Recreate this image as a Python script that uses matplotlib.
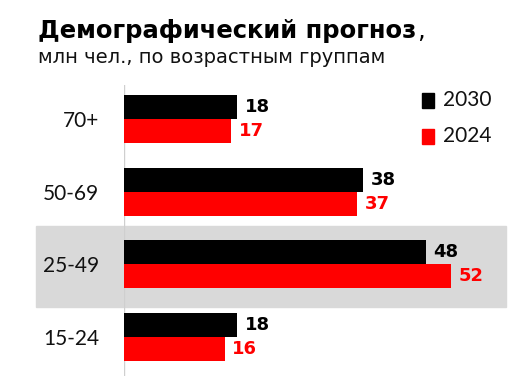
import matplotlib.pyplot as plt
import matplotlib.transforms as mtransforms
from matplotlib.patches import Rectangle
import numpy as np

categories = ["70+", "50-69", "25-49", "15-24"]
values_2030 = [18, 38, 48, 18]
values_2024 = [17, 37, 52, 16]
series_names = ["2030", "2024"]
highlight = "25-49"

BLACK = "#000000"
RED = "#ff0000"

plt.rcParams['font.family'] = ['DejaVu Sans']
LIGHT = ['Lato', 'DejaVu Sans']

fig = plt.figure(figsize=(5.25, 3.76), dpi=100)
W, H = 525, 376
ax = fig.add_axes([124 / W, 0, 382 / W, (376 - 85) / H])

y = np.arange(len(categories))
h = 0.33
ax.barh(y - h / 2, values_2030, height=h, color=BLACK, zorder=3)
ax.barh(y + h / 2, values_2024, height=h, color=RED, zorder=3)

for yi, v1, v2 in zip(y, values_2030, values_2024):
    ax.text(v1 + 1.2, yi - h / 2, str(v1), color=BLACK, fontsize=13,
            fontweight='bold', va='center', ha='left')
    ax.text(v2 + 1.2, yi + h / 2, str(v2), color=RED, fontsize=13,
            fontweight='bold', va='center', ha='left')

# gray band behind highlighted group
hi = categories.index(highlight)
trans = mtransforms.blended_transform_factory(ax.transAxes, ax.transData)
ax.add_patch(Rectangle((-88 / 382, hi - 0.53), 1 + 88 / 382, 1.11,
                       transform=trans, color="#d9d9d9", clip_on=False, zorder=0))

ax.axvline(0, color="#cfcfcf", lw=1, zorder=1)

ax.set_xlim(0, 60.7)
ax.set_ylim(3.534, -0.466)
ax.set_yticks(y)
ax.set_yticklabels(categories, fontsize=15, color="#111111",
                   fontweight='normal', family=LIGHT)
ax.tick_params(axis='y', length=0, pad=18)
ax.set_xticks([])
for s in ax.spines.values():
    s.set_visible(False)
ax.patch.set_alpha(0)

# legend
for i, (name, col) in enumerate(zip(series_names, [BLACK, RED])):
    ly = 100 + i * 36
    fig.patches.append(Rectangle((422 / W, 1 - (ly + 7.5) / H), 12 / W, 15 / H,
                                 transform=fig.transFigure, color=col))
    fig.text(443 / W, 1 - ly / H, name, fontsize=15, color="#111111",
             va='center', ha='left', fontweight='normal', family=LIGHT)

title = fig.text(38 / W, 1 - 38 / H, "Демографический прогноз", fontsize=17.5,
                 fontweight='bold', va='baseline', ha='left')
fig.canvas.draw()
bb = title.get_window_extent()
fig.text(bb.x1 / W + 1 / W, 1 - 38 / H, ",", fontsize=17.5,
         va='baseline', ha='left')
fig.text(38 / W, 1 - 63 / H, "млн чел., по возрастным группам", fontsize=14,
         va='baseline', ha='left', color="#111111")

fig.savefig("out.png", dpi=100, facecolor='white')
